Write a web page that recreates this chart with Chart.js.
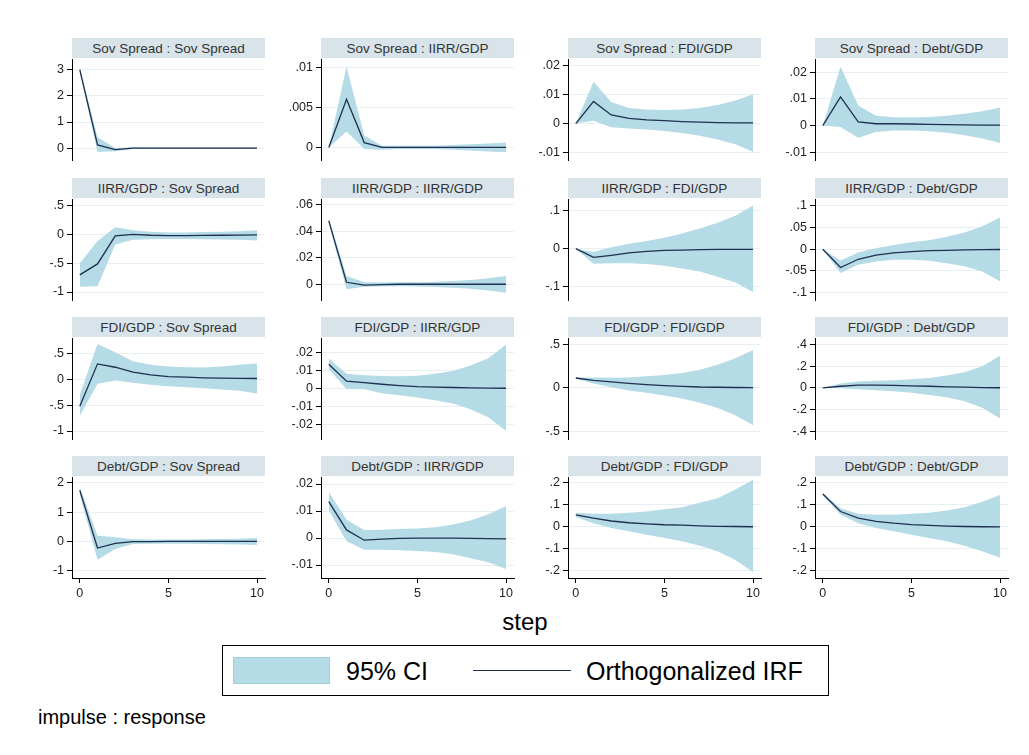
<!DOCTYPE html>
<html><head><meta charset="utf-8">
<script src="https://cdn.jsdelivr.net/npm/chart.js@4.4.1/dist/chart.umd.min.js"></script>
<style>
html,body{margin:0;padding:0;background:#fff;}
body{width:1029px;height:755px;overflow:hidden;position:relative;font-family:"Liberation Sans",Arial,sans-serif;}
.strip{position:absolute;height:20px;background:#d8e4ea;text-align:center;font-size:13.5px;font-weight:400;line-height:21px;color:#333;white-space:nowrap;}
canvas{position:absolute;}
#steplab{position:absolute;left:0;width:1050px;top:608px;text-align:center;font-size:24px;color:#000;}
#legend{position:absolute;left:222px;top:645px;width:605px;height:49px;border:1px solid #000;box-sizing:content-box;}
#legend .sw1{position:absolute;left:10px;top:11px;width:97px;height:27px;background:#b4dbe6;border:1px solid #a2cfdc;box-sizing:border-box;}
#legend .sw2{position:absolute;left:250px;top:24px;width:98px;height:0;border-top:1.5px solid #1f2f4f;}
#legend .t{position:absolute;top:10px;font-size:25px;line-height:30px;color:#000;}
#imp{position:absolute;left:38px;top:706px;font-size:20px;color:#000;}
</style></head><body>
<div id="steplab">step</div>
<div id="legend"><div class="sw1"></div><div class="t" style="left:123px">95% CI</div><div class="sw2"></div><div class="t" style="left:363px">Orthogonalized IRF</div></div>
<div id="imp">impulse : response</div>
<script>
// ---------- data ----------
const steps = [0,1,2,3,4,5,6,7,8,9,10];
const xTicks = [0,5,10];
const variables = ['Sov Spread','IIRR/GDP','FDI/GDP','Debt/GDP'];

// impulse Sov Spread
const irf_SS = [3.0, 0.12, -0.06, 0.0, 0.0, 0.0, 0.0, 0.0, 0.0, 0.0, 0.0];
const hi_SS  = [3.12, 0.42, 0.0, 0.03, 0.02, 0.02, 0.02, 0.02, 0.02, 0.02, 0.02];
const lo_SS  = [2.95, -0.15, -0.12, -0.03, -0.02, -0.02, -0.02, -0.02, -0.02, -0.02, -0.02];
const irf_SI = [0, .006, .0006, 0, 0, 0, 0, 0, 0, 0, 0];
const hi_SI  = [0, .0101, .0015, .0002, .0002, .0002, .0002, .0003, .0004, .0005, .0006];
const lo_SI  = [0, .002, -.0002, -.0003, -.0002, -.0002, -.0002, -.0003, -.0004, -.0005, -.0006];
const irf_SF = [0, .0077, .003, .0018, .0013, .001, .0007, .0005, .0003, .0002, .0002];
const hi_SF  = [0, .0145, .0075, .0054, .0049, .0047, .0049, .0054, .0064, .008, .0102];
const lo_SF  = [0, .001, -.0013, -.0017, -.0021, -.0026, -.0033, -.0042, -.0055, -.0072, -.0098];
const irf_SD = [0, .0107, .0014, .0007, .0007, .0006, .0005, .0004, .0003, .0002, .0002];
const hi_SD  = [0, .022, .0075, .0037, .0031, .003, .0032, .0037, .0044, .0054, .0068];
const lo_SD  = [0, -.0005, -.0045, -.0024, -.0018, -.0018, -.0021, -.0027, -.0036, -.0048, -.0065];
// impulse IIRR/GDP
const irf_IS = [-.70, -.51, -.02, .005, -.01, -.015, -.015, -.012, -.01, -.008, -.005];
const hi_IS  = [-.5, -.11, .13, .075, .05, .04, .04, .045, .05, .06, .075];
const lo_IS  = [-.91, -.9, -.17, -.09, -.08, -.075, -.075, -.08, -.085, -.09, -.1];
const irf_II = [.048, .0015, -.0006, -.0002, 0, 0, 0, 0, 0, 0, 0];
const hi_II  = [.05, .0062, .0015, .0015, .0015, .0016, .0019, .0024, .0032, .0045, .0063];
const lo_II  = [.046, -.0037, -.0018, -.0015, -.0015, -.0017, -.002, -.0026, -.0034, -.0047, -.0064];
const irf_IF = [0, -.023, -.0175, -.011, -.007, -.0045, -.0035, -.0026, -.0018, -.002, -.002];
const hi_IF  = [0, -.009, .0035, .013, .02, .029, .04, .053, .068, .087, .114];
const lo_IF  = [0, -.0395, -.0386, -.0386, -.04, -.0447, -.052, -.06, -.074, -.089, -.114];
const irf_ID = [0, -.042, -.023, -.0136, -.0083, -.0053, -.003, -.0023, -.0015, -.001, -.0005];
const hi_ID  = [0, -.026, -.0076, .0023, .0098, .016, .021, .029, .0386, .053, .0735];
const lo_ID  = [0, -.0545, -.0356, -.028, -.024, -.024, -.0265, -.032, -.039, -.051, -.0735];
// impulse FDI/GDP
const irf_FS = [-.52, .295, .23, .135, .083, .05, .038, .026, .02, .016, .013];
const hi_FS  = [-.30, .68, .52, .346, .276, .244, .23, .224, .244, .276, .30];
const lo_FS  = [-.71, -.09, -.026, -.07, -.11, -.135, -.154, -.173, -.2, -.224, -.276];
const irf_FI = [.0133, .0039, .0031, .0022, .0015, .0009, .0006, .0004, .0002, .0001, 0];
const hi_FI  = [.0165, .008, .0072, .0068, .0067, .007, .008, .0096, .0126, .0167, .0243];
const lo_FI  = [.0106, -.0004, -.0006, -.0028, -.0039, -.0052, -.0067, -.0085, -.0117, -.0161, -.0237];
const irf_FF = [.115, .088, .069, .053, .038, .027, .019, .011, .008, .005, .003];
const hi_FF  = [.122, .122, .118, .122, .134, .149, .172, .21, .267, .343, .439];
const lo_FF  = [.107, .05, .008, -.03, -.057, -.088, -.122, -.172, -.233, -.317, -.431];
const irf_FD = [0, .015, .025, .025, .022, .018, .015, .009, .006, .003, .001];
const hi_FD  = [0, .04, .058, .065, .071, .08, .092, .114, .145, .2, .298];
const lo_FD  = [0, -.003, -.012, -.022, -.031, -.046, -.065, -.086, -.123, -.185, -.283];
// impulse Debt/GDP
const irf_DS = [1.75, -.22, -.06, 0, 0, .01, .01, .01, .01, .01, .01];
const hi_DS  = [1.85, .2, .15, .08, .07, .07, .07, .08, .09, .1, .12];
const lo_DS  = [1.6, -.62, -.25, -.08, -.07, -.07, -.07, -.08, -.09, -.1, -.12];
const irf_DI = [.0135, .003, -.0008, -.0004, -.0001, 0, 0, 0, -.0001, -.0002, -.0003];
const hi_DI  = [.017, .0068, .003, .0031, .0033, .0035, .004, .005, .0065, .0088, .0118];
const lo_DI  = [.0102, -.0012, -.0043, -.0043, -.0045, -.0048, -.0052, -.006, -.0075, -.009, -.0115];
const irf_DF = [.055, .04, .027, .019, .014, .01, .008, .005, .003, .002, .001];
const hi_DF  = [.065, .06, .06, .065, .07, .08, .09, .11, .13, .17, .215];
const lo_DF  = [.045, .017, -.005, -.02, -.035, -.05, -.065, -.085, -.11, -.15, -.205];
const irf_DD = [.15, .07, .04, .025, .017, .011, .007, .004, .002, .001, 0];
const hi_DD  = [.155, .085, .06, .055, .055, .06, .065, .075, .09, .115, .145];
const lo_DD  = [.145, .055, .017, -.005, -.02, -.035, -.05, -.065, -.085, -.11, -.14];

// y tick labels per panel
const ticks_SS = [0,1,2,3];
const ticks_SI = [0,.005,.01];
const ticks_SF = [-.01,0,.01,.02];
const ticks_SD = [-.01,0,.01,.02];
const ticks_IS = [-1,-.5,0,.5];
const ticks_II = [0,.02,.04,.06];
const ticks_IF = [-.1,0,.1];
const ticks_ID = [-.1,-.05,0,.05,.1];
const ticks_FS = [-1,-.5,0,.5];
const ticks_FI = [-.02,-.01,0,.01,.02];
const ticks_FF = [-.5,0,.5];
const ticks_FD = [-.4,-.2,0,.2,.4];
const ticks_DS = [-1,0,1,2];
const ticks_DI = [-.01,0,.01,.02];
const ticks_DF = [-.2,-.1,0,.1,.2];
const ticks_DD = [-.2,-.1,0,.1,.2];

// ---------- panels ----------
const panels = [
 {irf:irf_SS,hi:hi_SS,lo:lo_SS,ticks:ticks_SS,range:[-0.456,3.418]},
 {irf:irf_SI,hi:hi_SI,lo:lo_SI,ticks:ticks_SI,range:[-0.00157,0.01103]},
 {irf:irf_SF,hi:hi_SF,lo:lo_SF,ticks:ticks_SF,range:[-0.01265,0.0224]},
 {irf:irf_SD,hi:hi_SD,lo:lo_SD,ticks:ticks_SD,range:[-0.01285,0.0249]},
 {irf:irf_IS,hi:hi_IS,lo:lo_IS,ticks:ticks_IS,range:[-1.139,0.622]},
 {irf:irf_II,hi:hi_II,lo:lo_II,ticks:ticks_II,range:[-0.0119,0.0645]},
 {irf:irf_IF,hi:hi_IF,lo:lo_IF,ticks:ticks_IF,range:[-0.135,0.1308]},
 {irf:irf_ID,hi:hi_ID,lo:lo_ID,ticks:ticks_ID,range:[-0.117,0.116]},
 {irf:irf_FS,hi:hi_FS,lo:lo_FS,ticks:ticks_FS,range:[-1.154,0.794]},
 {irf:irf_FI,hi:hi_FI,lo:lo_FI,ticks:ticks_FI,range:[-0.0282,0.0279]},
 {irf:irf_FF,hi:hi_FF,lo:lo_FF,ticks:ticks_FF,range:[-0.59,0.577]},
 {irf:irf_FD,hi:hi_FD,lo:lo_FD,ticks:ticks_FD,range:[-0.473,0.461]},
 {irf:irf_DS,hi:hi_DS,lo:lo_DS,ticks:ticks_DS,range:[-1.24,2.2]},
 {irf:irf_DI,hi:hi_DI,lo:lo_DI,ticks:ticks_DI,range:[-0.0148,0.0226]},
 {irf:irf_DF,hi:hi_DF,lo:lo_DF,ticks:ticks_DF,range:[-0.232,0.227]},
 {irf:irf_DD,hi:hi_DD,lo:lo_DD,ticks:ticks_DD,range:[-0.232,0.227]}
];

// ---------- layout ----------
const colX = [72, 321, 568, 815];
const rowY = [59, 199, 338, 477];
const PW = 193, PH = 101, YW = 45, PADT = 10, PADR = 8, XH = 30;
const BAND = '#b4dbe6', LINE = '#1f2f4f', GRID = '#e6eff1';
const FONT = {family:'"Liberation Sans", Arial, sans-serif', size:12.5};

function fmt(v){
  if (Math.abs(v) < 1e-12) return '0';
  let s = String(Number(v.toPrecision(8)));
  return s.replace(/^(-?)0\./, '$1.');
}
function pts(arr){ return steps.map((s,i)=>({x:s, y:arr[i]})); }

panels.forEach((p, k) => {
  const r = Math.floor(k/4), c = k % 4;
  const bottom = (r === 3);
  const left = colX[c], top = rowY[r];

  const strip = document.createElement('div');
  strip.className = 'strip';
  strip.style.left = left + 'px';
  strip.style.top = (top - 21) + 'px';
  strip.style.width = PW + 'px';
  strip.textContent = variables[r] + ' : ' + variables[c];
  document.body.appendChild(strip);

  const cv = document.createElement('canvas');
  const w = YW + PW + PADR, h = PADT + PH + (bottom ? XH : PADT);
  cv.width = w; cv.height = h;
  cv.style.width = w + 'px'; cv.style.height = h + 'px';
  cv.style.left = (left - YW) + 'px';
  cv.style.top = (top - PADT) + 'px';
  document.body.appendChild(cv);

  new Chart(cv, {
    type: 'line',
    data: { datasets: [
      {label:'Orthogonalized IRF', data:pts(p.irf), borderColor:LINE, borderWidth:1.3, pointRadius:0, fill:false, tension:0},
      {label:'95% CI', data:pts(p.hi), borderWidth:0, borderColor:'rgba(0,0,0,0)', backgroundColor:BAND, pointRadius:0, fill:'+1', tension:0},
      {label:'lo', data:pts(p.lo), borderWidth:0, borderColor:'rgba(0,0,0,0)', pointRadius:0, fill:false, tension:0}
    ]},
    options: {
      responsive:false, animation:false, devicePixelRatio:1,
      layout:{padding:{top:PADT, right:PADR, bottom: bottom ? 0 : PADT, left:0}},
      plugins:{legend:{display:false}, tooltip:{enabled:false}, filler:{drawTime:'beforeDatasetsDraw'}},
      scales:{
        x:{type:'linear', min:-0.44, max:10.45, display:bottom,
           afterBuildTicks:s=>{s.ticks = xTicks.map(v=>({value:v}));},
           afterFit:s=>{ if (bottom) { s.height = XH; } else { s.height = 0; } s.paddingLeft = 0; s.paddingRight = 0;},
           grid:{drawOnChartArea:false, tickLength:5, tickColor:'#000', tickWidth:1},
           border:{display:true, color:'#000', width:1},
           ticks:{font:FONT, color:'#222', padding:3, maxRotation:0, callback:v=>fmt(v)}},
        y:{type:'linear', min:p.range[0], max:p.range[1],
           afterBuildTicks:s=>{s.ticks = p.ticks.map(v=>({value:v}));},
           afterFit:s=>{s.width = YW; s.paddingTop = 0; s.paddingBottom = 0;},
           grid:{color:GRID, lineWidth:1, tickLength:5, tickColor:'#000', tickWidth:1},
           border:{display:true, color:'#000', width:1},
           ticks:{font:FONT, color:'#222', padding:3, callback:v=>fmt(v)}}
      }
    }
  });
});
</script>
</body></html>
